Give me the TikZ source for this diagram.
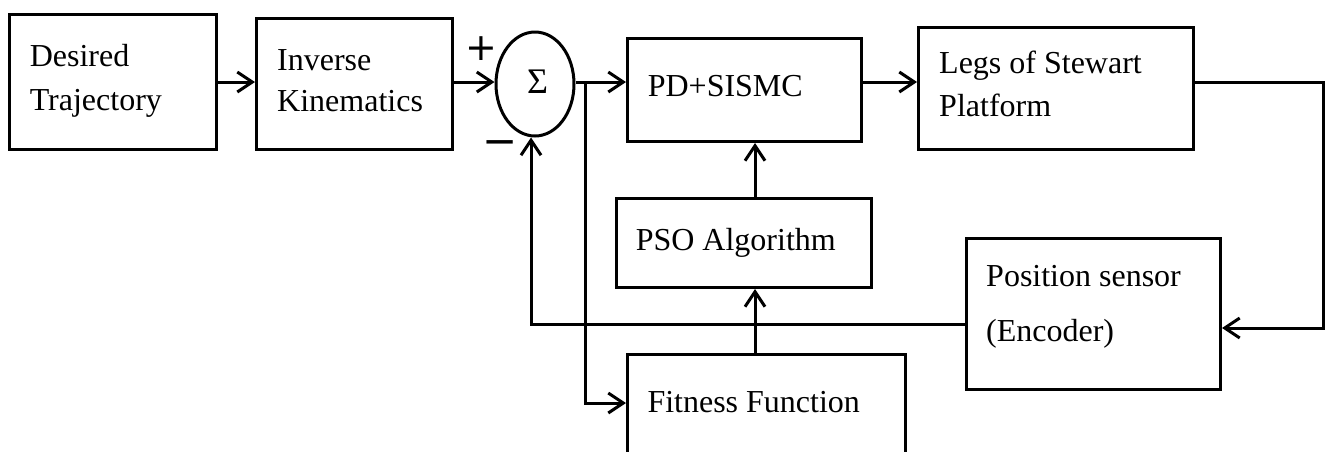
\documentclass[tikz,border=0pt]{standalone}
\usepackage{fontspec}
\setmainfont{Liberation Serif}
\newfontfamily\signfont{DejaVu Sans}
\usetikzlibrary{arrows.meta,shapes.geometric}
\begin{document}
\begin{tikzpicture}[x=1pt, y=-1pt,
  font=\fontsize{32}{38}\selectfont,
  box/.style={draw, line width=3pt, rectangle, inner sep=0pt, anchor=north west},
  txt/.style={anchor=base west, inner sep=0pt},
  sign/.style={inner sep=0pt, font=\signfont\fontsize{#1}{#1}\selectfont},
  link/.style={line width=3pt, -{Straight Barb[length=15pt,width=20pt]}}]
\useasboundingbox (0,0) rectangle (1325,451);
\clip (0,0) rectangle (1325,451);

% blocks
\node[box, minimum width=207pt, minimum height=135pt] (dt) at (8,13) {};
\node[box, minimum width=196pt, minimum height=131pt] (ik) at (255,17) {};
\node[draw, ellipse, line width=3pt, minimum width=78pt, minimum height=104pt, inner sep=0pt] (sum) at (535,84) {};
\node[box, minimum width=234pt, minimum height=103pt] (pd) at (626,37) {};
\node[box, minimum width=275pt, minimum height=122pt] (legs) at (917,26) {};
\node[box, minimum width=255pt, minimum height=89pt] (pso) at (615,197) {};
\node[box, minimum width=254pt, minimum height=151pt] (pos) at (965,237) {};
\node[box, minimum width=278pt, minimum height=140pt] (fit) at (626,353) {};

% block texts
\node[txt] (dt1) at (29.6,66.7) {Desired};
\node[txt] (dt2) at (29.6,110) {Trajectory};
\node[txt] (ik1) at (277,70) {Inverse};
\node[txt] (ik2) at (277,111.7) {Kinematics};
\node[inner sep=0pt, font=\fontsize{36}{36}\selectfont] (sigma) at (537.5,82) {Σ};
\node[sign=38] (plus) at (481.5,48.3) {+};
\node[sign=42] (minus) at (500,148.5) {−};
\node[txt] (pd1) at (647.6,96.7) {PD+SISMC};
\node[txt] (lg1) at (939,73.3) {Legs of Stewart};
\node[txt] (lg2) at (939,116.7) {Platform};
\node[txt] (pso1) at (635.6,250) {PSO Algorithm};
\node[txt] (ps1) at (986,286.7) {Position sensor};
\node[txt] (ps2) at (986,341.7) {(Encoder)};
\node[txt] (ff1) at (647.3,412.7) {Fitness Function};

% routing points
\coordinate (row) at (0,82);
\coordinate (br) at (585,82);
\coordinate (col) at (755,0);
\coordinate (ret) at (1323,328);
\coordinate (fb) at (531,324);
\coordinate (fitin) at (585,403);

% signal flow
\draw[link] (dt.east |- row) -- (ik.west |- row);
\draw[link] (ik.east |- row) -- (sum.west |- row);
\draw[link] (sum.east |- row) -- (pd.west |- row);
\draw[link] (pd.east |- row) -- (legs.west |- row);
\draw[link] (legs.east |- row) -| (ret) -- (pos.east |- ret);
\draw[link] (pos.west |- fb) -- (fb) -- (fb |- sum.south);
\draw[link] (br) -- (fitin) -- (fit.west |- fitin);
\draw[link] (pso.north -| col) -- (pd.south -| col);
\draw[link] (fit.north -| col) -- (pso.south -| col);
\end{tikzpicture}
\end{document}
